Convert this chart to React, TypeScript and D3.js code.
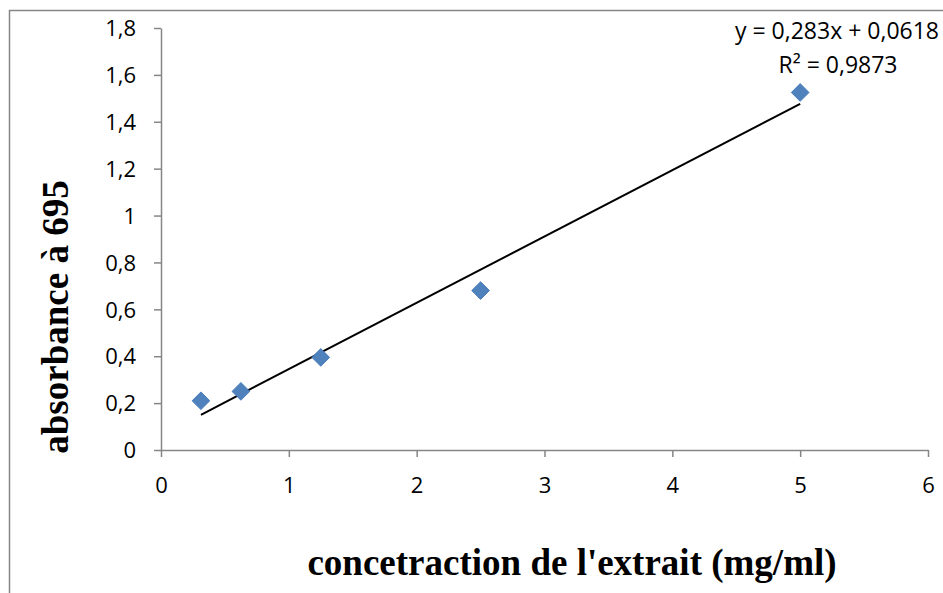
import React, { useEffect, useRef } from 'react';
import * as d3 from 'd3';

// concentrations (mg/ml) and absorbance
const concentrations = [0.3125, 0.625, 1.25, 2.5, 5];
const absorbances = [0.21, 0.25, 0.395, 0.68, 1.525];

// linear trendline y = slope*x + intercept
const slope = 0.283;
const intercept = 0.0618;

const xTicks = [0, 1, 2, 3, 4, 5, 6];
const yTicks = [0, 0.2, 0.4, 0.6, 0.8, 1, 1.2, 1.4, 1.6, 1.8];

const equationLabel = 'y = 0,283x + 0,0618';
const r2Label = 'R² = 0,9873';
const xTitle = "concetraction de l'extrait (mg/ml)";
const yTitle = 'absorbance à 695';

const WIDTH = 943;
const HEIGHT = 593;

export default function App() {
  const ref = useRef<SVGSVGElement>(null);

  useEffect(() => {
    const svg = d3.select(ref.current);
    svg.selectAll('*').remove();

    const axisColor = '#868686';
    const tickFont = '"Open Sans", sans-serif';

    // chart area border (only left/top visible)
    svg.append('rect')
      .attr('x', 9.5).attr('y', 10.5)
      .attr('width', 960).attr('height', 600)
      .attr('fill', 'white')
      .attr('stroke', axisColor)
      .attr('stroke-width', 1.5);

    const xScale = d3.scaleLinear().domain([0, 6]).range([161, 928]);
    const yScale = d3.scaleLinear().domain([0, 1.8]).range([450, 28]);

    const fmt = (d: number) => String(+d.toFixed(1)).replace('.', ',');

    // y axis
    const yAxis = svg.append('g')
      .attr('transform', `translate(${xScale(0)},0)`)
      .call(d3.axisLeft(yScale).tickValues(yTicks).tickSize(7).tickSizeOuter(0).tickFormat((d) => fmt(d as number)));
    // x axis
    const xAxis = svg.append('g')
      .attr('transform', `translate(0,${yScale(0)})`)
      .call(d3.axisBottom(xScale).tickValues(xTicks).tickSize(7).tickSizeOuter(0).tickFormat((d) => fmt(d as number)));

    [yAxis, xAxis].forEach((ax) => {
      ax.select('.domain').attr('stroke', axisColor).attr('stroke-width', 1.5);
      ax.selectAll('.tick line').attr('stroke', axisColor).attr('stroke-width', 1.5);
      ax.selectAll('.tick text')
        .attr('fill', '#000')
        .style('font-family', tickFont)
        .style('font-size', '22px');
    });
    yAxis.selectAll('.tick text').attr('x', -25).attr('dy', '0.35em');
    xAxis.selectAll('.tick text').attr('y', 27);

    // trendline
    const xMin = d3.min(concentrations) as number;
    const xMax = d3.max(concentrations) as number;
    const line = d3.line<number>()
      .x((d) => xScale(d))
      .y((d) => yScale(slope * d + intercept));
    svg.append('path')
      .datum([xMin, xMax])
      .attr('d', line)
      .attr('fill', 'none')
      .attr('stroke', '#000')
      .attr('stroke-width', 2);

    // diamonds
    const symbol = d3.symbol().type(d3.symbolDiamond2).size(200);
    svg.append('g')
      .selectAll('path')
      .data(concentrations)
      .enter()
      .append('path')
      .attr('d', symbol)
      .attr('transform', (d, i) => `translate(${xScale(d)},${yScale(absorbances[i])})`)
      .attr('fill', '#4F81BD')
      .attr('stroke', '#4A7EBB')
      .attr('stroke-width', 1);

    // equation labels
    svg.append('text')
      .attr('x', 837).attr('y', 39)
      .attr('text-anchor', 'middle')
      .style('font-family', tickFont)
      .style('font-size', '23px')
      .text(equationLabel);
    svg.append('text')
      .attr('x', 838).attr('y', 73)
      .attr('text-anchor', 'middle')
      .style('font-family', tickFont)
      .style('font-size', '23px')
      .text(r2Label);

    // axis titles
    svg.append('text')
      .attr('x', 572).attr('y', 575)
      .attr('text-anchor', 'middle')
      .style('font-family', '"Liberation Serif", serif')
      .style('font-weight', 'bold')
      .style('font-size', '37px')
      .text(xTitle);
    svg.append('text')
      .attr('transform', `translate(68,317) rotate(-90)`)
      .attr('text-anchor', 'middle')
      .style('font-family', '"Liberation Serif", serif')
      .style('font-weight', 'bold')
      .style('font-size', '37px')
      .text(yTitle);
  }, []);

  return (
    <svg ref={ref} width={WIDTH} height={HEIGHT}
      style={{ position: 'absolute', left: 0, top: 0, background: 'white' }} />
  );
}
